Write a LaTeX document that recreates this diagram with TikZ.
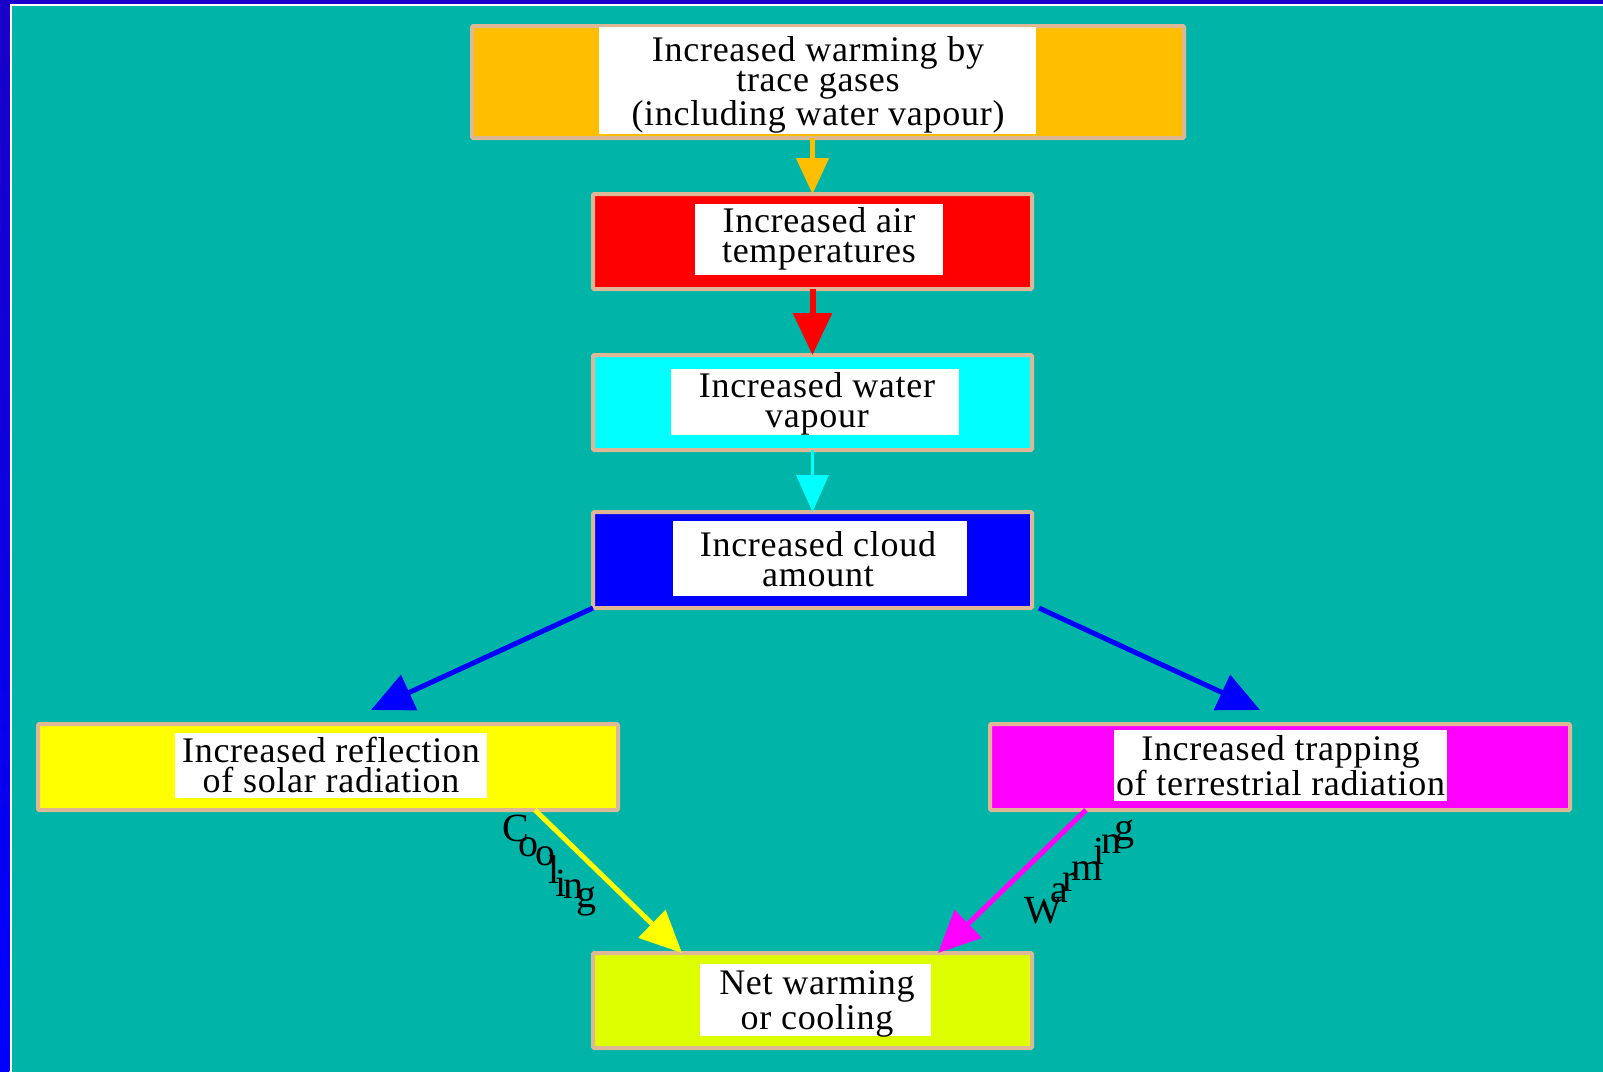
\documentclass[tikz,border=0pt]{standalone}
\usepackage{fontspec}
\setmainfont{Liberation Serif}[LetterSpace=2]
\usetikzlibrary{arrows.meta,calc}

\definecolor{sea}{RGB}{0,181,168}
\definecolor{frametop}{RGB}{26,0,200}
\definecolor{framelow}{RGB}{0,0,255}
\definecolor{tan}{RGB}{222,184,150}
\definecolor{amber}{RGB}{255,191,0}
\definecolor{lime}{RGB}{221,255,0}
\definecolor{pureRed}{RGB}{255,0,0}
\definecolor{pureCyan}{RGB}{0,255,255}
\definecolor{pureBlue}{RGB}{0,0,255}
\definecolor{pureYellow}{RGB}{255,255,0}
\definecolor{pureMagenta}{RGB}{255,0,255}

\tikzset{
  box/.style={draw=tan, line width=2pt, rounded corners=0.6pt, inner sep=0pt, outer sep=0pt},
  lbl/.style={fill=white, inner sep=0pt, outer sep=0pt},
  txt/.style={inner sep=0pt, outer sep=0pt, align=center,
              font=\fontsize{18pt}{15pt}\selectfont},
  glyph/.style={anchor=base west, inner sep=0pt, outer sep=0pt,
                font=\fontsize{20pt}{16pt}\selectfont},
  link/.style={line width=2.5pt, -{Triangle[length=21pt,width=19pt]}},
  smalllink/.style={line width=2.5pt, -{Triangle[length=18pt,width=16pt]}}
}

\begin{document}
\begin{tikzpicture}[x=0.5pt,y=-0.5pt]
\useasboundingbox (0,0) rectangle (1603,1072);

% background and frame
\fill[sea] (0,0) rectangle (1603,1072);
\fill[white] (0,0) rectangle (1603,6.2);
\fill[white] (0,0) rectangle (11.5,1072);
\fill[frametop] (0,0) rectangle (1603,4.2);
\shade[top color=frametop, bottom color=framelow] (0,0) rectangle (9.3,1072);

% boxes, each with a white label panel and its text
\node[box, fill=amber, minimum width=356pt, minimum height=56pt] (B1) at (828,82) {};
\node[lbl, minimum width=218.5pt, minimum height=53.5pt] (L1) at (817.5,80.5) {};
\node[txt] (T1) at (818,85)
  {Increased warming by\\trace gases\\(including water vapour)};

\node[box, fill=pureRed, minimum width=219.5pt, minimum height=47.5pt] (B2) at (812.5,241.5) {};
\node[lbl, minimum width=124pt, minimum height=35.5pt] (L2) at (819,239.5) {};
\node[txt] (T2) at (819,239) {Increased air\\temperatures};

\node[box, fill=pureCyan, minimum width=219.5pt, minimum height=47.5pt] (B3) at (812.5,402.5) {};
\node[lbl, minimum width=144pt, minimum height=33pt] (L3) at (815,402) {};
\node[txt] (T3) at (817,404) {Increased water\\vapour};

\node[box, fill=pureBlue, minimum width=219.5pt, minimum height=48pt] (B4) at (812.5,560) {};
\node[lbl, minimum width=147pt, minimum height=37.5pt] (L4) at (820,558.5) {};
\node[txt] (T4) at (818,559) {Increased cloud\\amount};

\node[box, fill=pureYellow, minimum width=290pt, minimum height=43pt] (B5) at (328,767) {};
\node[lbl, minimum width=156pt, minimum height=32.5pt] (L5) at (331,765.5) {};
\node[txt] (T5) at (331,765) {Increased reflection\\of solar radiation};

\node[box, fill=pureMagenta, minimum width=290pt, minimum height=43pt] (B6) at (1280,767) {};
\node[lbl, minimum width=166.5pt, minimum height=35.5pt] (L6) at (1280.5,765.5) {};
\node[txt] (T6) at (1280.5,765.5) {Increased trapping\\of terrestrial radiation};

\node[box, fill=lime, minimum width=219.5pt, minimum height=47.5pt] (B7) at (812.5,1000.5) {};
\node[lbl, minimum width=115.5pt, minimum height=36pt] (L7) at (815.5,1000) {};
\node[txt] (T7) at (817,1004) {Net warming\\or cooling};

% connectors
\draw[smalllink, draw=amber] (B2.north |- B1.south) -- (B2.north);
\draw[link, draw=pureRed, line width=3pt] (B2.south) -- (B3.north);
\draw[draw=pureCyan, line width=1.4pt, -{Triangle[length=18.5pt,width=16pt]}] (B3.south) -- (B4.north);
\draw[link, draw=pureBlue] (B4.south west) -- ($(B5.north)+(43,-14)$);
\draw[link, draw=pureBlue] ($(B4.south east)+(7,0)$) -- ($(B6.north)+(-20,-14)$);
\draw[link, draw=pureYellow] ($(B5.south)+(207,0)$) -- ($(B7.north)+(-130.5,0)$);
\draw[link, draw=pureMagenta] ($(B6.south)+(-194,0)$) -- ($(B7.north)+(125.5,0)$);

% edge labels, letter by letter
\node[glyph] (c1) at (502,841) {C};
\node[glyph] (c2) at (518,856) {o};
\node[glyph] (c3) at (535,865) {o};
\node[glyph] (c4) at (548,883) {l};
\node[glyph] (c5) at (555,896) {i};
\node[glyph] (c6) at (563,898) {n};
\node[glyph] (c7) at (576,907) {g};

\node[glyph] (w1) at (1024,923) {W};
\node[glyph] (w2) at (1050,902) {a};
\node[glyph] (w3) at (1062,891) {r};
\node[glyph] (w4) at (1071,880) {m};
\node[glyph] (w5) at (1093,864) {i};
\node[glyph] (w6) at (1101,853) {n};
\node[glyph] (w7) at (1114,840) {g};
\end{tikzpicture}
\end{document}
